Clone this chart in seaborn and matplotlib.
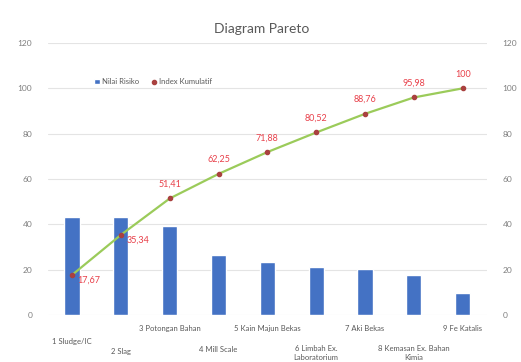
import numpy as np
import pandas as pd
import matplotlib.pyplot as plt
import seaborn as sns

categories = ['1 Sludge/IC', '2 Slag', '3 Potongan Bahan', '4 Mill Scale',
              '5 Kain Majun Bekas', '6 Limbah Ex.\nLaboratorium', '7 Aki Bekas',
              '8 Kemasan Ex. Bahan\nKimia', '9 Fe Katalis']
nilai_risiko = [43.2, 43.2, 39.3, 26.5, 23.5, 21.1, 20.1, 17.7, 9.8]
indeks_kumulatif = [17.67, 35.34, 51.41, 62.25, 71.88, 80.52, 88.76, 95.98, 100]
kumulatif_labels = ['17,67', '35,34', '51,41', '62,25', '71,88', '80,52', '88,76', '95,98', '100']
# row of each staggered category label (axes fraction below the x axis)
label_rows = [-0.098, -0.135, -0.048, -0.125, -0.048, -0.14, -0.048, -0.14, -0.048]

sns.set_style('white')
plt.rcParams['font.family'] = ['Lato', 'DejaVu Sans']

df = pd.DataFrame({'kategori': categories, 'nilai': nilai_risiko,
                   'kumulatif': indeks_kumulatif, 'pos': np.arange(len(categories))})

fig = plt.figure(figsize=(5.21, 3.62), dpi=100)
ax = fig.add_axes([0.0914, 0.1298, 0.8436, 0.7514])

sns.barplot(data=df, x='kategori', y='nilai', color='#4472C4', width=0.31,
            saturation=1, ax=ax, label='Nilai Risiko', zorder=2)
sns.lineplot(data=df, x='pos', y='kumulatif', color='#9BCB5A', linewidth=1.6,
             ax=ax, zorder=3)
ax.scatter(df['pos'], df['kumulatif'], s=9, color='#A9413F', zorder=4,
           label='Index Kumulatif')

for i, (v, t) in enumerate(zip(indeks_kumulatif, kumulatif_labels)):
    if i < 2:
        ax.annotate(t, (i, v), xytext=(4, -4), textcoords='offset points',
                    ha='left', va='center', color='#E8404A', fontsize=6.5, zorder=5)
    else:
        ax.annotate(t, (i, v), xytext=(0, 7), textcoords='offset points',
                    ha='center', va='bottom', color='#E8404A', fontsize=6.5, zorder=5)

ax.set_ylim(0, 120)
ax.set_xlim(-0.5, len(categories) - 0.5)
ax.set_yticks(range(0, 121, 20))
ax.yaxis.grid(True, color='#E4E4E4', linewidth=0.8, zorder=0)
ax.set_xlabel('')
ax.set_ylabel('')
ax.set_xticks([])
ax.tick_params(axis='y', colors='#7F7F7F', labelsize=6, length=0, pad=11)
for s in ax.spines.values():
    s.set_visible(False)

trans = ax.get_xaxis_transform()
for i, (lab, r) in enumerate(zip(categories, label_rows)):
    ax.text(i, r, lab, transform=trans, ha='center', va='center',
            fontsize=5.5, color='#595959', linespacing=1.3)

ax2 = ax.twinx()
ax2.set_ylim(0, 120)
ax2.set_yticks(range(0, 121, 20))
ax2.tick_params(axis='y', colors='#7F7F7F', labelsize=6, length=0, pad=11)
for s in ax2.spines.values():
    s.set_visible(False)

handles, labels = ax.get_legend_handles_labels()
order = [labels.index('Nilai Risiko'), labels.index('Index Kumulatif')]
ax.legend([handles[k] for k in order], [labels[k] for k in order],
          loc='upper left', bbox_to_anchor=(0.09, 0.895), ncol=2, frameon=False,
          fontsize=5.5, labelcolor='#595959', handlelength=0.8, handletextpad=0.3,
          columnspacing=1.5, markerscale=1.0)

fig.text(0.503, 0.92, 'Diagram Pareto', ha='center', va='center',
         fontsize=10, color='#595959')

fig.savefig('out.png', dpi=100)
